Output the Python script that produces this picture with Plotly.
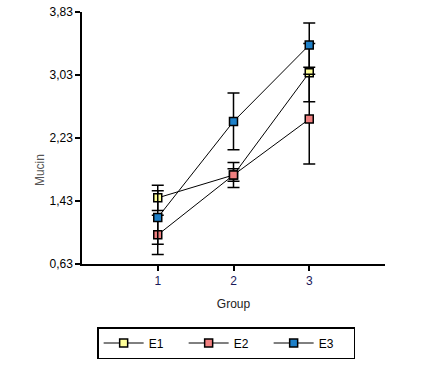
import plotly.graph_objects as go

groups = [1, 2, 3]
series_names = ["E1", "E2", "E3"]
e1 = [1.47, 1.76, 3.06]
e2 = [1.00, 1.76, 2.47]
e3 = [1.22, 2.44, 3.41]
e1_err = [0.16, 0.08, 0.37]
e2_err = [0.25, 0.16, 0.57]
e3_err = [0.34, 0.36, 0.28]
y_ticks = [0.63, 1.43, 2.23, 3.03, 3.83]

colors = ["#FFFF99", "#F08080", "#1E80C8"]
values = [e1, e2, e3]
errs = [e1_err, e2_err, e3_err]

fig = go.Figure()
for name, vals, err, col in zip(series_names, values, errs, colors):
    fig.add_trace(go.Scatter(
        x=groups, y=vals, name=name, mode="lines+markers",
        line=dict(color="black", width=1),
        marker=dict(symbol="square", size=8, color=col,
                    line=dict(color="black", width=1.5)),
        error_y=dict(type="data", array=err, visible=True,
                     color="black", thickness=1.5, width=6),
    ))

fig.update_layout(
    width=421, height=378,
    margin=dict(l=82, r=36, t=12, b=114, autoexpand=False),
    paper_bgcolor="white", plot_bgcolor="white",
    separators=",.",
    font=dict(family="Liberation Sans, Arial", size=12, color="black"),
    showlegend=True,
    legend=dict(orientation="h", x=0.05, y=-0.25, xanchor="left", yanchor="top",
                bordercolor="black", borderwidth=1.5, entrywidth=30,
                font=dict(size=12), itemwidth=40,
                traceorder="normal"),
    annotations=[dict(text="Mucin", textangle=-90, xref="paper", yref="paper",
                      x=-0.168, y=0.373, showarrow=False,
                      font=dict(size=12, color="#555"))],
)
fig.update_xaxes(
    range=[0, 4], tickvals=groups, ticktext=[str(g) for g in groups],
    showline=True, linecolor="black", linewidth=1.5,
    ticks="outside", ticklen=5, tickcolor="black", tickwidth=1.5,
    showgrid=False, zeroline=False, automargin=False,
    tickfont=dict(color="#1a1a5a"),
    title=dict(text="Group", font=dict(size=12, color="#222"), standoff=12),
)
fig.update_yaxes(
    range=[0.63, 3.83], tickvals=y_ticks, tickformat=".2f",
    showline=True, linecolor="black", linewidth=1.5,
    ticks="outside", ticklen=5, tickcolor="black", tickwidth=1.5,
    showgrid=False, zeroline=False, automargin=False,
)

fig.write_html("out.html", config={"displayModeBar": False},
               post_script="document.body.style.margin='0';")
